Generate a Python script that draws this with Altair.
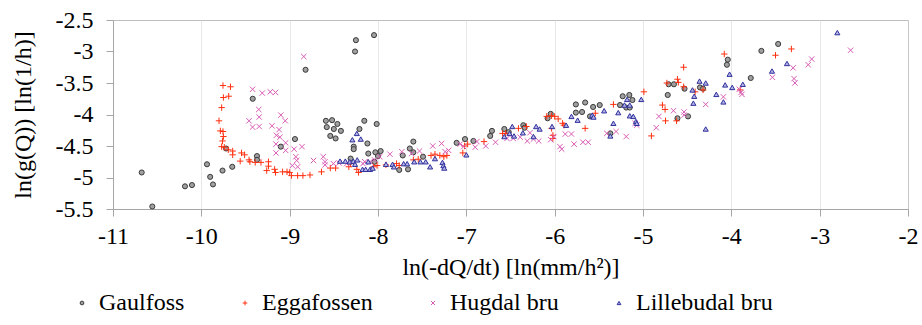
import altair as alt
import pandas as pd

series_names = ["Gaulfoss", "Eggafossen", "Hugdal bru", "Lillebudal bru"]

gaulfoss_x = [-10.675, -10.555, -10.185, -10.106, -9.936, -9.90, -9.868, -9.76, -9.72, -9.65,
              -9.418, -9.37, -9.37, -9.10, -8.94, -8.82, -8.25, -8.26, -8.045, -8.59,
              -8.52, -8.46, -8.58, -8.50, -8.42, -8.54, -8.48, -8.155, -8.21, -8.015,
              -8.275, -8.275, -8.12, -8.03, -7.97, -8.11, -8.31, -8.00, -8.04, -7.76,
              -7.66, -7.72, -7.64, -7.60, -7.60, -7.49, -7.11, -7.015, -6.92, -6.71,
              -6.73, -6.57, -6.52, -6.355, -6.34, -6.08, -6.045, -5.76, -5.655, -5.49,
              -5.565, -5.76, -5.69, -5.60, -5.26, -5.23, -5.155, -5.19, -5.15, -5.12,
              -5.37, -4.71, -4.65, -4.72, -4.53, -4.355, -4.32, -4.61, -4.49, -4.04,
              -4.05, -3.78, -3.66, -3.47]
gaulfoss_y = [-4.92, -5.46, -5.14, -5.12, -4.79, -4.99, -5.11, -4.89, -4.54, -4.83,
              -3.75, -4.66, -4.72, -4.51, -4.39, -3.29, -2.82, -3.00, -2.74, -4.10,
              -4.09, -4.15, -4.20, -4.23, -4.26, -4.34, -4.38, -4.10, -4.23, -4.15,
              -4.51, -4.55, -4.46, -4.60, -4.58, -4.62, -4.70, -4.66, -4.75, -4.88,
              -4.87, -4.65, -4.54, -4.43, -4.60, -4.67, -4.45, -4.39, -4.42, -4.26,
              -4.34, -4.23, -4.28, -4.17, -4.21, -4.06, -3.99, -3.84, -3.81, -3.85,
              -3.88, -3.97, -3.96, -4.03, -3.85, -3.71, -3.69, -3.89, -3.89, -3.77,
              -4.30, -3.52, -3.52, -3.69, -3.59, -3.57, -3.59, -4.06, -4.03, -3.13,
              -3.21, -3.42, -2.99, -2.88]

eggafossen_x = [-9.755, -9.67, -9.75, -9.69, -9.77, -9.80, -9.785, -9.755, -9.75, -9.76,
                -9.77, -9.74, -9.695, -9.645, -9.645, -9.545, -9.51, -9.56, -9.46, -9.45,
                -9.39, -9.325, -9.24, -9.24, -9.26, -9.17, -9.16, -9.08, -9.03, -9.00,
                -8.98, -8.91, -8.85, -8.77, -8.64, -8.54, -8.48, -8.33, -8.31, -8.24,
                -8.22, -8.05, -8.01, -7.91, -7.79, -7.76, -7.60, -7.545, -7.40, -7.355,
                -7.30, -7.255, -7.22, -7.04, -7.02, -6.985, -6.80, -6.59, -6.555, -6.41,
                -6.32, -6.09, -6.035, -6.00, -5.96, -6.035, -6.02, -6.02, -5.91, -5.895,
                -5.655, -5.54, -5.335, -4.99, -4.905, -4.78, -4.75, -4.745, -4.62, -4.73,
                -4.61, -4.60, -4.54, -4.54, -4.41, -4.32, -4.08, -3.90, -3.50, -3.32]
eggafossen_y = [-3.54, -3.56, -3.73, -3.71, -3.89, -4.10, -4.26, -4.27, -4.35, -4.42,
                -4.51, -4.52, -4.56, -4.58, -4.64, -4.61, -4.64, -4.74, -4.72, -4.75,
                -4.76, -4.76, -4.75, -4.82, -4.89, -4.87, -4.92, -4.91, -4.91, -4.92,
                -4.97, -4.97, -4.97, -4.96, -4.91, -4.85, -4.85, -4.83, -4.78, -4.87,
                -4.92, -4.83, -4.81, -4.80, -4.78, -4.81, -4.72, -4.71, -4.65, -4.63,
                -4.65, -4.67, -4.65, -4.61, -4.50, -4.47, -4.43, -4.30, -4.30, -4.22,
                -4.19, -4.03, -4.02, -4.03, -4.07, -4.22, -4.33, -4.38, -4.14, -4.17,
                -4.22, -3.98, -3.84, -3.64, -4.34, -3.85, -3.92, -4.10, -4.10, -3.50,
                -3.44, -3.49, -3.25, -3.56, -3.64, -3.61, -3.04, -3.61, -3.06, -2.96]

hugdal_x = [-8.84, -9.42, -9.31, -9.22, -9.16, -9.46, -9.42, -9.345, -9.35, -9.345,
            -9.10, -9.05, -9.20, -9.12, -9.15, -9.11, -9.045, -9.155, -9.045, -9.155,
            -8.95, -8.93, -8.92, -8.97, -8.91, -8.86, -8.73, -8.62, -8.60, -8.60,
            -8.505, -8.44, -8.355, -8.17, -8.15, -8.09, -8.04, -7.98, -7.865, -7.73,
            -7.62, -7.53, -7.38, -7.28, -7.24, -7.20, -7.07, -7.03, -6.90, -6.88,
            -6.78, -6.67, -6.54, -6.47, -6.39, -6.31, -6.28, -6.24, -6.18, -6.045,
            -6.01, -5.94, -5.92, -5.88, -5.81, -5.78, -5.68, -5.62, -5.41, -5.305,
            -5.19, -5.09, -5.07, -4.85, -4.82, -4.655, -4.535, -4.535, -4.29, -4.09,
            -3.91, -3.89, -3.88, -3.535, -3.30, -3.29, -3.28, -3.13, -3.09, -2.65]
hugdal_y = [-3.08, -3.60, -3.66, -3.64, -3.65, -4.10, -4.20, -4.19, -3.92, -4.04,
            -4.01, -4.10, -4.18, -4.24, -4.33, -4.36, -4.45, -4.47, -4.57, -4.61,
            -4.55, -4.67, -4.73, -4.81, -4.83, -4.51, -4.73, -4.67, -4.75, -4.80,
            -4.78, -4.77, -4.78, -4.78, -4.75, -4.75, -4.72, -4.67, -4.63, -4.59,
            -4.62, -4.58, -4.50, -4.46, -4.59, -4.57, -4.47, -4.51, -4.52, -4.43,
            -4.50, -4.44, -4.38, -4.38, -4.36, -4.42, -4.29, -4.39, -4.42, -4.40,
            -4.35, -4.51, -4.55, -4.31, -4.31, -4.47, -4.44, -4.44, -4.30, -4.27,
            -4.35, -4.14, -4.17, -4.21, -4.03, -3.94, -3.96, -4.01, -3.84, -3.72,
            -3.60, -3.65, -3.68, -3.41, -3.26, -3.43, -3.50, -3.21, -3.12, -2.98]

lillebudal_x = [-8.24, -8.29, -8.195, -8.43, -8.37, -8.32, -8.28, -8.235, -8.26, -8.175,
                -8.14, -8.09, -8.06, -8.11, -7.91, -7.835, -7.82, -7.71, -7.67, -7.59,
                -7.52, -7.46, -7.41, -7.355, -7.27, -7.26, -7.25, -7.00, -6.57, -6.48,
                -6.46, -6.51, -6.36, -6.24, -6.21, -6.17, -6.03, -5.87, -5.81, -5.74,
                -5.575, -5.56, -5.44, -5.335, -5.37, -5.28, -5.21, -5.18, -5.15, -5.15,
                -5.11, -5.08, -5.07, -5.02, -4.44, -4.42, -4.36, -4.29, -4.43, -4.29,
                -4.17, -4.07, -4.02, -3.99, -3.87, -4.09, -3.54, -3.37, -2.80]
lillebudal_y = [-4.30, -4.40, -4.39, -4.74, -4.74, -4.75, -4.74, -4.72, -4.79, -4.87,
                -4.87, -4.87, -4.85, -4.75, -4.79, -4.79, -4.83, -4.78, -4.78, -4.75,
                -4.75, -4.75, -4.83, -4.70, -4.76, -4.81, -4.85, -4.64, -4.35, -4.19,
                -4.34, -4.30, -4.29, -4.35, -4.19, -4.23, -4.19, -4.17, -4.03, -4.09,
                -4.01, -4.04, -3.94, -4.14, -4.34, -3.97, -3.85, -3.76, -3.85, -4.02,
                -4.03, -4.11, -4.14, -3.76, -3.61, -3.71, -3.47, -3.50, -3.82, -4.23,
                -3.68, -3.53, -3.36, -3.57, -3.52, -3.80, -3.31, -3.19, -2.70]

x_ticks = [-11, -10, -9, -8, -7, -6, -5, -4, -3, -2]
y_ticks = [-5.5, -5, -4.5, -4, -3.5, -3, -2.5]

rows = []
for name, xs, ys in zip(series_names,
                        [gaulfoss_x, eggafossen_x, hugdal_x, lillebudal_x],
                        [gaulfoss_y, eggafossen_y, hugdal_y, lillebudal_y]):
    for xv, yv in zip(xs, ys):
        rows.append({"series": name, "x": xv, "y": yv})
df = pd.DataFrame(rows)

FONT = "Liberation Serif, Times New Roman, serif"
plus_path = "M-1.25,0H1.25M0,-1.25V1.25"
x_path = "M-1.05,-1.05L1.05,1.05M1.05,-1.05L-1.05,1.05"

axis_style = dict(
    labelFont=FONT, labelFontSize=24, labelColor="black",
    titleFont=FONT, titleFontSize=24, titleFontWeight="normal", titleColor="black",
    domainColor="#a6a6a6", tickColor="#a6a6a6", labelExpr="'' + datum.value",
)

legend = alt.Legend(
    title=None, orient="none", direction="horizontal",
    legendX=-43, legendY=271, padding=0,
    labelFont=FONT, labelFontSize=24, labelColor="black",
    labelOffset=5, columnPadding=48, symbolSize=14, symbolStrokeWidth=1,
)

chart = alt.Chart(df).mark_point(size=26, strokeWidth=1, opacity=1).encode(
    x=alt.X("x:Q",
            scale=alt.Scale(domain=[-11, -2], nice=False, zero=False),
            axis=alt.Axis(values=x_ticks, title="ln(-dQ/dt) [ln(mm/h²)]",
                          grid=True, gridColor="#cfcfcf", gridDash=[1, 1], gridWidth=1,
                          tickSize=7, labelPadding=8, titlePadding=7,
                          labelFlush=False, **axis_style)),
    y=alt.Y("y:Q",
            scale=alt.Scale(domain=[-5.5, -2.5], nice=False, zero=False),
            axis=alt.Axis(values=y_ticks, title="ln(g(Q)) [ln(1/h)]", grid=False,
                          tickSize=7, labelPadding=13, titlePadding=20,
                          **axis_style)),
    shape=alt.Shape("series:N",
                    scale=alt.Scale(domain=series_names,
                                    range=["circle", plus_path, x_path, "triangle-up"]),
                    legend=legend),
    fill=alt.Fill("series:N",
                  scale=alt.Scale(domain=series_names,
                                  range=["#a0a0a0", "transparent", "transparent", "#b4b4e6"]),
                  legend=legend),
    stroke=alt.Stroke("series:N",
                      scale=alt.Scale(domain=series_names,
                                      range=["#3a3a3a", "#ff3010", "#d95cb5", "#30309c"]),
                      legend=legend),
).properties(
    width=795, height=189,
    background="white",
    autosize=alt.AutoSizeParams(type="none"),
    padding={"left": 113, "top": 20, "right": 14, "bottom": 116},
).configure_view(
    stroke="#bfbfbf", strokeWidth=1
)

chart.save("out.html", embed_options={"renderer": "svg", "actions": False})
